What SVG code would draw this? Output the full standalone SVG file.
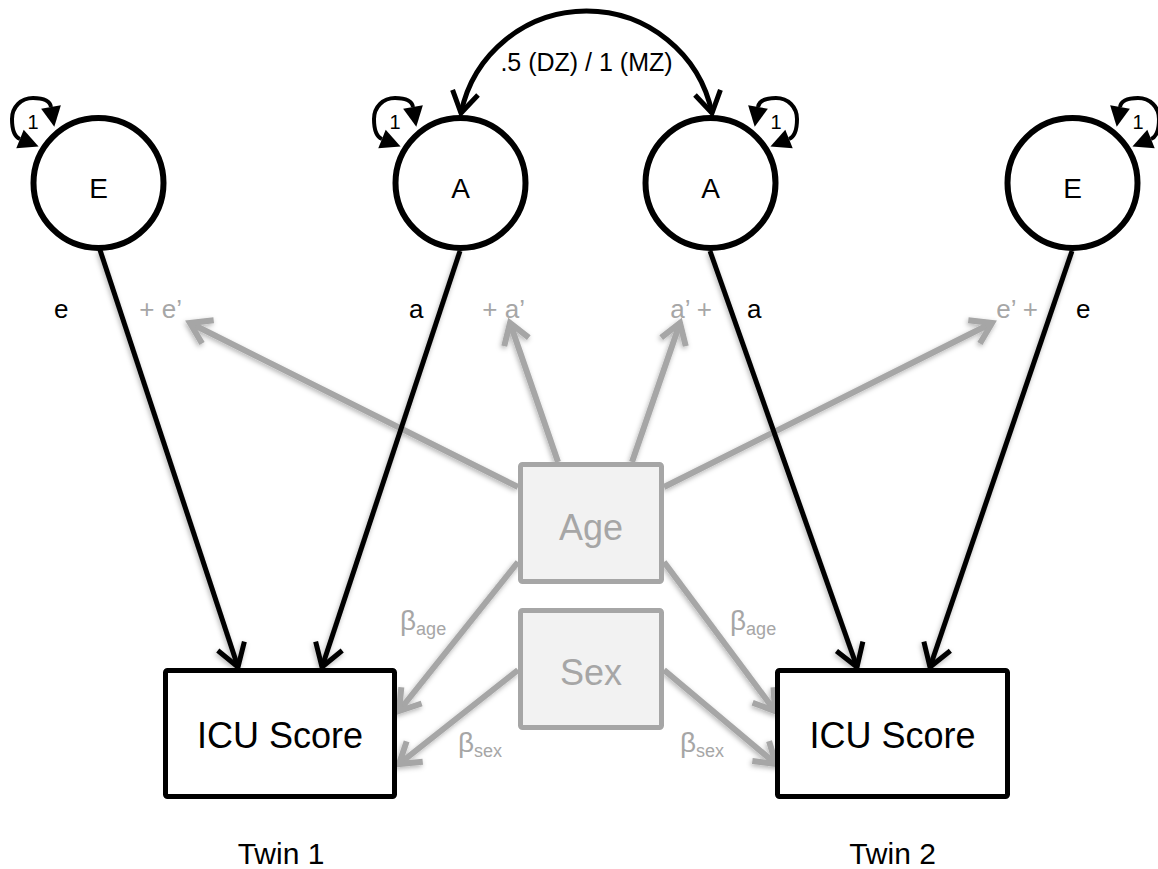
<svg xmlns="http://www.w3.org/2000/svg" width="1158" height="869" viewBox="0 0 1158 869">
  <style>
    text { font-family: "Liberation Sans", Arial, sans-serif; }
    .lat { fill: #fff; stroke: #000; stroke-width: 6; }
    .obs { fill: #fff; stroke: #000; stroke-width: 5; }
    .cov { fill: #f2f2f2; stroke: #a6a6a6; stroke-width: 5; }
    .blk { fill: none; stroke: #000; stroke-width: 5; marker-end: url(#vBlack); }
    .gry { fill: none; stroke: #a6a6a6; stroke-width: 6; marker-end: url(#vGrey); }
    .loop { fill: none; stroke: #000; stroke-width: 4; marker-start: url(#tri); marker-end: url(#tri); }
    .name { font-size: 28px; fill: #000; text-anchor: middle; }
    .big { font-size: 36px; text-anchor: middle; }
    .one { font-size: 20px; fill: #000; text-anchor: middle; }
    .pl { font-size: 26px; fill: #000; }
    .pg { font-size: 26px; fill: #a6a6a6; }
    .beta { font-size: 28px; fill: #a6a6a6; }
    .sub { font-size: 18px; }
  </style>
  <defs>
    <marker id="vBlack" markerUnits="userSpaceOnUse" viewBox="-28 -19 34 38" markerWidth="34" markerHeight="38" refX="0" refY="0" orient="auto">
      <path d="M-22,-14 L0,0 L-22,14" fill="none" stroke="#000" stroke-width="5"/>
    </marker>
    <marker id="vGrey" markerUnits="userSpaceOnUse" viewBox="-28 -19 34 38" markerWidth="34" markerHeight="38" refX="0" refY="0" orient="auto">
      <path d="M-20,-13 L0,0 L-20,13" fill="none" stroke="#a6a6a6" stroke-width="6"/>
    </marker>
    <marker id="vArc" markerUnits="userSpaceOnUse" viewBox="-28 -19 34 38" markerWidth="34" markerHeight="38" refX="0" refY="0" orient="auto-start-reverse">
      <path d="M-21,-13 L0,0 L-21,13" fill="none" stroke="#000" stroke-width="5"/>
    </marker>
    <!-- filled head: base sits on the end of the loop, tip points onward -->
    <marker id="tri" markerUnits="userSpaceOnUse" viewBox="-2 -12 24 24" markerWidth="24" markerHeight="24" refX="0" refY="0" orient="auto-start-reverse">
      <path d="M20,0 L0,-10 L0,10 Z" fill="#000"/>
    </marker>
    <filter id="soft" x="-20%" y="-20%" width="140%" height="140%">
      <feDropShadow dx="-1" dy="2" stdDeviation="2.5" flood-color="#000" flood-opacity="0.3"/>
    </filter>
  </defs>

  <rect width="1158" height="869" fill="#fff"/>

  <!-- paths, covariance arc and variance loops -->
  <g id="connectors">
    <g filter="url(#soft)">
      <!-- covariate effects on the loadings -->
      <path class="gry" d="M518,487 L190,323"/>
      <path class="gry" d="M558,462 L510,323"/>
      <path class="gry" d="M632,462 L680,323"/>
      <path class="gry" d="M664,487 L992,323"/>
      <!-- covariate effects on the scores -->
      <path class="gry" d="M518,562 L399,711"/>
      <path class="gry" d="M664,562 L775,711"/>
      <path class="gry" d="M518,670 L399,764"/>
      <path class="gry" d="M664,670 L776,764"/>
      <!-- factor loadings -->
      <path class="blk" d="M100,250 L238,667"/>
      <path class="blk" d="M460,251 L322,667"/>
      <path class="blk" d="M710,251 L857,667"/>
      <path class="blk" d="M1072,251 L930,667"/>
    </g>
    <!-- A1 <-> A2 correlation -->
    <path d="M461,113 A128.2,128.2 0 0 1 712,113" fill="none" stroke="#000" stroke-width="5" marker-start="url(#vArc)" marker-end="url(#vArc)"/>
    <!-- unit variances -->
    <path class="loop" d="M51,107 C50,101 43,98 33,98 C21,98 12,107 12,119 C12,130 15,137 20,139"/>
    <path class="loop" d="M413,107 C412,101 405,98 395,98 C383,98 374,107 374,119 C374,130 377,137 382,139"/>
    <path class="loop" d="M758,107 C759,101 766,98 776,98 C788,98 797,107 797,119 C797,130 794,137 789,139"/>
    <path class="loop" d="M1120,107 C1121,101 1128,98 1138,98 C1150,98 1159,107 1159,119 C1159,130 1156,137 1151,139"/>
  </g>

  <!-- path labels -->
  <g id="labels">
    <text class="pl" x="54" y="318">e</text>
    <text class="pg" x="182" y="318" text-anchor="end">+ e’</text>
    <text class="pl" x="409" y="318">a</text>
    <text class="pg" x="525" y="318" text-anchor="end">+ a’</text>
    <text class="pg" x="712" y="318" text-anchor="end">a’ +</text>
    <text class="pl" x="747" y="318">a</text>
    <text class="pg" x="1038" y="318" text-anchor="end">e’ +</text>
    <text class="pl" x="1076" y="318">e</text>
    <text class="beta" x="400" y="630">β<tspan class="sub" dy="5">age</tspan></text>
    <text class="beta" x="730" y="630">β<tspan class="sub" dy="5">age</tspan></text>
    <text class="beta" x="458" y="752">β<tspan class="sub" dy="5">sex</tspan></text>
    <text class="beta" x="680" y="752">β<tspan class="sub" dy="5">sex</tspan></text>
    <text x="586.5" y="71" font-size="25" text-anchor="middle" fill="#000">.5 (DZ) / 1 (MZ)</text>
    <text class="one" x="33" y="129">1</text>
    <text class="one" x="395" y="129">1</text>
    <text class="one" x="776" y="129">1</text>
    <text class="one" x="1138" y="129">1</text>
  </g>

  <g id="E1">
    <circle class="lat" cx="98.5" cy="183" r="65"/>
    <text class="name" x="98.5" y="198">E</text>
  </g>
  <g id="A1">
    <circle class="lat" cx="460.5" cy="183" r="65"/>
    <text class="name" x="460.5" y="198">A</text>
  </g>
  <g id="A2">
    <circle class="lat" cx="710.5" cy="183" r="65"/>
    <text class="name" x="710.5" y="198">A</text>
  </g>
  <g id="E2">
    <circle class="lat" cx="1072.5" cy="183" r="65"/>
    <text class="name" x="1072.5" y="198">E</text>
  </g>

  <g id="Age">
    <rect class="cov" x="520.5" y="464.5" width="141" height="117" rx="2"/>
    <text class="big" x="591" y="540" fill="#a6a6a6">Age</text>
  </g>
  <g id="Sex">
    <rect class="cov" x="520.5" y="610.5" width="141" height="117" rx="2"/>
    <text class="big" x="591" y="685" fill="#a6a6a6">Sex</text>
  </g>

  <g id="ICU1">
    <rect class="obs" x="165.5" y="670.5" width="229" height="126" rx="2"/>
    <text class="big" x="280" y="748" fill="#000">ICU Score</text>
  </g>
  <g id="ICU2">
    <rect class="obs" x="777.5" y="670.5" width="230" height="126" rx="2"/>
    <text class="big" x="892.5" y="748" fill="#000">ICU Score</text>
  </g>

  <g id="twins">
    <text x="281" y="864" font-size="30" text-anchor="middle" fill="#000">Twin 1</text>
    <text x="892.5" y="864" font-size="30" text-anchor="middle" fill="#000">Twin 2</text>
  </g>
</svg>
